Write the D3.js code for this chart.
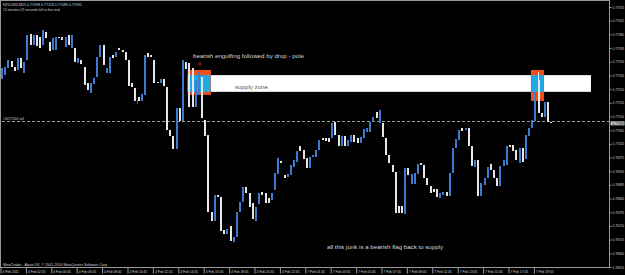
<!DOCTYPE html>
<html lang="en">
<head>
  <meta charset="UTF-8" />
  <title>NZDUSD M15</title>
  <script src="https://cdn.jsdelivr.net/npm/d3@7/dist/d3.min.js"></script>
  <style>
    body { margin: 0; background: #000; }
    svg { display: block; }
    text { font-family: "Liberation Sans", Arial, sans-serif; }
  </style>
</head>
<body>
<svg id="svg"></svg>
<script>
  // M15 candles
  const opens = [0.77233,0.77246,0.77269,0.77292,0.77273,0.77263,0.77302,0.77253,0.77296,0.77381,
    0.77345,0.77378,0.77371,0.77345,0.77388,0.77355,0.77329,0.77329,0.77371,0.77371,
    0.77338,0.77378,0.77335,0.77335,0.77286,0.77296,0.77273,0.77220,0.77187,0.77217,
    0.77240,0.77306,0.77345,0.77253,0.77253,0.77312,0.77306,0.77335,0.77329,0.77322,
    0.77296,0.77220,0.77204,0.77174,0.77161,0.77181,0.77319,0.77312,0.77296,0.77223,
    0.77220,0.77233,0.77207,0.77066,0.77046,0.77003,0.77138,0.77095,0.77289,0.77286,
    0.77269,0.77141,0.77181,0.77240,0.77098,0.77049,0.76796,0.76766,0.76852,0.76845,
    0.76736,0.76723,0.76749,0.76697,0.76713,0.76796,0.76828,0.76878,0.76858,0.76825,
    0.76766,0.76822,0.76862,0.76858,0.76842,0.76835,0.76868,0.76921,0.76964,0.76918,
    0.76911,0.76918,0.76944,0.76960,0.77013,0.77000,0.76974,0.76941,0.76977,0.76977,
    0.77000,0.77039,0.77039,0.77039,0.77039,0.77092,0.77049,0.77013,0.77046,0.77013,
    0.77026,0.77049,0.77039,0.77023,0.77039,0.77059,0.77059,0.77092,0.77125,0.77089,
    0.77089,0.77039,0.76983,0.76950,0.76927,0.76815,0.76815,0.76789,0.76941,0.76888,
    0.76888,0.76921,0.76957,0.76950,0.76908,0.76881,0.76871,0.76871,0.76842,0.76852,
    0.76862,0.76848,0.76924,0.77006,0.77033,0.77072,0.77066,0.77072,0.77013,0.76944,
    0.76967,0.76848,0.76885,0.76908,0.76954,0.76934,0.76908,0.76881,0.76947,0.76950,
    0.77016,0.77016,0.77000,0.76957,0.77006,0.76970,0.77046,0.77072,0.77095,0.77230,
    0.77121,0.77108,0.77158,0.77092];
  const highs = [0.77269,0.77273,0.77296,0.77292,0.77273,0.77302,0.77302,0.77289,0.77378,0.77381,
    0.77378,0.77378,0.77371,0.77394,0.77388,0.77355,0.77368,0.77371,0.77371,0.77371,
    0.77371,0.77378,0.77378,0.77335,0.77302,0.77296,0.77273,0.77220,0.77220,0.77237,
    0.77306,0.77345,0.77345,0.77269,0.77306,0.77312,0.77322,0.77335,0.77329,0.77322,
    0.77296,0.77220,0.77204,0.77174,0.77184,0.77312,0.77319,0.77312,0.77296,0.77223,
    0.77233,0.77233,0.77207,0.77066,0.77046,0.77138,0.77138,0.77296,0.77289,0.77286,
    0.77269,0.77230,0.77256,0.77240,0.77098,0.77049,0.76796,0.76852,0.76852,0.76845,
    0.76736,0.76740,0.76749,0.76713,0.76796,0.76828,0.76878,0.76878,0.76858,0.76825,
    0.76812,0.76858,0.76862,0.76858,0.76842,0.76858,0.76924,0.76974,0.76964,0.76918,
    0.76921,0.76950,0.76967,0.76997,0.77013,0.77000,0.76974,0.76977,0.76983,0.77000,
    0.77033,0.77039,0.77039,0.77039,0.77089,0.77092,0.77049,0.77046,0.77046,0.77033,
    0.77049,0.77049,0.77039,0.77043,0.77069,0.77072,0.77092,0.77108,0.77125,0.77131,
    0.77089,0.77039,0.76983,0.76950,0.76927,0.76815,0.76815,0.76941,0.76941,0.76921,
    0.76924,0.76954,0.76957,0.76950,0.76908,0.76881,0.76871,0.76871,0.76858,0.76862,
    0.76862,0.76924,0.77006,0.77036,0.77066,0.77072,0.77072,0.77072,0.77013,0.76967,
    0.76967,0.76891,0.76908,0.76944,0.76954,0.76934,0.76908,0.76947,0.76967,0.77013,
    0.77016,0.77016,0.77000,0.77006,0.77006,0.77049,0.77072,0.77098,0.77191,0.77256,
    0.77121,0.77158,0.77158,0.77092];
  const lows = [0.77233,0.77246,0.77269,0.77273,0.77259,0.77263,0.77269,0.77253,0.77296,0.77345,
    0.77345,0.77342,0.77335,0.77345,0.77368,0.77325,0.77329,0.77329,0.77368,0.77361,
    0.77338,0.77345,0.77335,0.77289,0.77286,0.77283,0.77214,0.77197,0.77187,0.77217,
    0.77240,0.77306,0.77279,0.77253,0.77253,0.77302,0.77306,0.77329,0.77322,0.77296,
    0.77210,0.77207,0.77161,0.77161,0.77161,0.77181,0.77306,0.77306,0.77220,0.77220,
    0.77220,0.77210,0.77066,0.77046,0.77003,0.77003,0.77095,0.77095,0.77266,0.77141,
    0.77141,0.77141,0.77181,0.77105,0.77046,0.76796,0.76766,0.76766,0.76845,0.76733,
    0.76723,0.76723,0.76700,0.76697,0.76713,0.76796,0.76828,0.76858,0.76812,0.76773,
    0.76766,0.76822,0.76852,0.76825,0.76825,0.76835,0.76868,0.76921,0.76957,0.76908,
    0.76911,0.76918,0.76944,0.76960,0.76997,0.76970,0.76941,0.76941,0.76977,0.76977,
    0.77000,0.77033,0.77029,0.77026,0.77039,0.77049,0.77013,0.77013,0.77013,0.77013,
    0.77026,0.77026,0.77023,0.77023,0.77039,0.77059,0.77059,0.77092,0.77105,0.77089,
    0.77043,0.76983,0.76957,0.76927,0.76792,0.76792,0.76792,0.76789,0.76918,0.76888,
    0.76888,0.76921,0.76950,0.76908,0.76885,0.76858,0.76862,0.76845,0.76842,0.76852,
    0.76848,0.76848,0.76924,0.77006,0.77033,0.77062,0.77066,0.77013,0.76947,0.76944,
    0.76848,0.76848,0.76885,0.76908,0.76934,0.76908,0.76881,0.76881,0.76947,0.76950,
    0.77010,0.76997,0.76967,0.76957,0.76960,0.76970,0.77046,0.77072,0.77095,0.77121,
    0.77108,0.77108,0.77092,0.77089];
  const closes = [0.77269,0.77273,0.77296,0.77273,0.77259,0.77302,0.77269,0.77289,0.77378,0.77345,
    0.77378,0.77342,0.77335,0.77394,0.77368,0.77325,0.77368,0.77371,0.77368,0.77361,
    0.77371,0.77345,0.77378,0.77289,0.77302,0.77283,0.77214,0.77197,0.77220,0.77237,
    0.77306,0.77345,0.77279,0.77269,0.77306,0.77302,0.77322,0.77329,0.77322,0.77296,
    0.77210,0.77207,0.77161,0.77161,0.77184,0.77312,0.77306,0.77306,0.77220,0.77220,
    0.77233,0.77210,0.77066,0.77046,0.77003,0.77138,0.77095,0.77296,0.77266,0.77141,
    0.77141,0.77230,0.77256,0.77105,0.77046,0.76796,0.76766,0.76852,0.76845,0.76733,
    0.76723,0.76740,0.76700,0.76713,0.76796,0.76828,0.76878,0.76858,0.76812,0.76773,
    0.76812,0.76858,0.76852,0.76825,0.76825,0.76858,0.76924,0.76974,0.76957,0.76908,
    0.76921,0.76950,0.76967,0.76997,0.76997,0.76970,0.76941,0.76977,0.76983,0.77000,
    0.77033,0.77033,0.77029,0.77026,0.77089,0.77049,0.77013,0.77046,0.77013,0.77033,
    0.77049,0.77026,0.77023,0.77043,0.77069,0.77072,0.77092,0.77108,0.77105,0.77131,
    0.77043,0.76983,0.76957,0.76927,0.76792,0.76792,0.76792,0.76941,0.76918,0.76921,
    0.76924,0.76954,0.76950,0.76908,0.76885,0.76858,0.76862,0.76845,0.76858,0.76862,
    0.76848,0.76924,0.77006,0.77036,0.77066,0.77062,0.77072,0.77013,0.76947,0.76967,
    0.76848,0.76891,0.76908,0.76944,0.76934,0.76908,0.76881,0.76947,0.76967,0.77013,
    0.77010,0.76997,0.76967,0.77006,0.76960,0.77049,0.77072,0.77098,0.77191,0.77121,
    0.77108,0.77158,0.77092,0.77089];

  const timeLabels = ["4 Feb 2011","4 Feb 02:45","4 Feb 04:45","4 Feb 06:45","4 Feb 08:45",
    "4 Feb 10:45","4 Feb 12:45","4 Feb 14:45","4 Feb 16:45","4 Feb 18:45","4 Feb 20:45",
    "4 Feb 22:45","7 Feb 01:45","7 Feb 03:45","7 Feb 05:45","7 Feb 07:45","7 Feb 09:45",
    "7 Feb 11:45","7 Feb 13:45","7 Feb 15:45","7 Feb 17:45","7 Feb 19:45"];
  const priceTicks = [0.77470,0.77425,0.77380,0.77335,0.77290,0.77245,0.77200,0.77155,0.77110,
    0.77065,0.77020,0.76975,0.76930,0.76885,0.76840,0.76795,0.76750,0.76705,0.76660,0.76615];

  // drawn objects (bar index / price)
  const supplyZone = { from: 58.5, to: 185.5, top: 0.77246, bottom: 0.77191 };
  const patternBoxes = [
    { from: 58.5, to: 65.8, top: 0.77263, bottom: 0.77181 },
    { from: 166.6, to: 170.7, top: 0.77263, bottom: 0.77161 }
  ];
  const orderPrice = 0.77095;
  const bidPrice = 0.77089;

  const width = 625;
  const height = 275;
  const plotRight = 609.5;
  const plotBottom = 267.5;

  const svg = d3.select("#svg").attr("width", width).attr("height", height);
  svg.append("rect").attr("width", width).attr("height", height).attr("fill", "#000");

  const xScale = d3.scaleLinear().domain([0, 168]).range([2, 535.4]);
  const yScale = d3.scaleLinear().domain([0.76615, 0.77470]).range([267, 7]);

  // supply zone + pattern boxes
  svg.append("rect")
    .attr("x", xScale(supplyZone.from)).attr("width", xScale(supplyZone.to) - xScale(supplyZone.from))
    .attr("y", yScale(supplyZone.top)).attr("height", yScale(supplyZone.bottom) - yScale(supplyZone.top))
    .attr("fill", "#ffffff");

  patternBoxes.forEach((b) => {
    const x0 = xScale(b.from), x1 = xScale(b.to);
    svg.append("rect")
      .attr("x", x0).attr("width", x1 - x0)
      .attr("y", yScale(b.top)).attr("height", yScale(b.bottom) - yScale(b.top))
      .attr("fill", "#f04e1c");
    svg.append("rect")
      .attr("x", x0 + 0.5).attr("width", x1 - x0 - 1)
      .attr("y", yScale(supplyZone.top)).attr("height", yScale(supplyZone.bottom) - yScale(supplyZone.top))
      .attr("fill", "#1fa9e6");
  });

  svg.append("text").text("supply zone")
    .attr("x", 235).attr("y", 88.5).attr("font-size", 6)
    .attr("textLength", 33).attr("lengthAdjust", "spacingAndGlyphs")
    .attr("fill", "#555");

  // order line
  const oy = Math.round(yScale(orderPrice)) + 0.5;
  svg.append("line")
    .attr("x1", 2).attr("x2", plotRight).attr("y1", oy).attr("y2", oy)
    .attr("stroke", "#93a593").attr("stroke-width", 1).attr("stroke-dasharray", "3,2");
  svg.append("text").text("#5077204 sell")
    .attr("x", 3).attr("y", oy - 1.5).attr("font-size", 3.4).attr("fill", "#cfcfcf");

  // candles
  const candles = svg.append("g").attr("shape-rendering", "crispEdges");
  opens.forEach((o, i) => {
    const c = closes[i];
    const col = c >= o ? "#3d7bd0" : "#e6e6e6";
    const cx = Math.round(xScale(i));
    const top = Math.round(yScale(Math.max(o, c)));
    const bot = Math.round(yScale(Math.min(o, c)));
    candles.append("line")
      .attr("x1", cx - 0.5).attr("x2", cx - 0.5)
      .attr("y1", yScale(highs[i])).attr("y2", yScale(lows[i]))
      .attr("stroke", col).attr("stroke-width", 1);
    candles.append("rect")
      .attr("x", cx - 1).attr("width", 2)
      .attr("y", top).attr("height", Math.max(1, bot - top))
      .attr("fill", col);
  });

  // small arrows
  svg.append("circle").attr("cx", 200).attr("cy", 64).attr("r", 1.2)
    .attr("fill", "none").attr("stroke", "#d02020").attr("stroke-width", 0.8);
  svg.append("line").attr("x1", 137.5).attr("x2", 137.5).attr("y1", 100).attr("y2", 104)
    .attr("stroke", "#2a8a2a").attr("stroke-width", 1);

  // annotations
  svg.append("text").text("bearish engulfing followed by drop - pole")
    .attr("x", 193).attr("y", 58).attr("font-size", 6)
    .attr("textLength", 111).attr("lengthAdjust", "spacingAndGlyphs").attr("fill", "#d8d8d8");
  svg.append("text").text("all this junk is a bearish flag back to supply")
    .attr("x", 327).attr("y", 248.5).attr("font-size", 6)
    .attr("textLength", 116).attr("lengthAdjust", "spacingAndGlyphs").attr("fill", "#d8d8d8");

  // header + footer text
  svg.append("text").text("NZDUSD,M15  0.77098 0.77118 0.77089 0.77092")
    .attr("x", 3).attr("y", 5.5).attr("font-size", 3.6).attr("fill", "#d0d0d0");
  svg.append("text").text("12 minutes 29 seconds left to bar end")
    .attr("x", 3).attr("y", 10.5).attr("font-size", 3.4).attr("fill", "#d0d0d0");
  svg.append("text").text("MetaTrader - Alpari UK, © 2001-2010 MetaQuotes Software Corp.")
    .attr("x", 3).attr("y", 265.5).attr("font-size", 3.6).attr("fill", "#d0d0d0");

  // frame
  const frame = svg.append("g").attr("stroke", "#9a9a9a").attr("stroke-width", 1);
  frame.append("line").attr("x1", 0.5).attr("x2", 0.5).attr("y1", 0).attr("y2", plotBottom);
  frame.append("line").attr("x1", 0).attr("x2", plotRight).attr("y1", 0.5).attr("y2", 0.5);
  frame.append("line").attr("x1", plotRight).attr("x2", plotRight).attr("y1", 0).attr("y2", plotBottom);
  frame.append("line").attr("x1", 0).attr("x2", plotRight).attr("y1", plotBottom).attr("y2", plotBottom);

  // price axis
  const yAxis = d3.axisRight(yScale)
    .tickValues(priceTicks)
    .tickFormat(d3.format(".5f"))
    .tickSize(2).tickPadding(1);
  const ya = svg.append("g").attr("transform", `translate(${plotRight}, 0)`).call(yAxis);
  ya.select(".domain").remove();
  ya.selectAll(".tick line").attr("stroke", "#9a9a9a");
  ya.selectAll(".tick text").attr("font-size", 3.2).attr("fill", "#cfcfcf")
    .attr("font-family", "Liberation Sans, Arial, sans-serif");

  // bid box
  svg.append("rect").attr("x", plotRight + 1).attr("y", yScale(bidPrice) - 1.5)
    .attr("width", 14).attr("height", 4).attr("fill", "#c8c8c8");
  svg.append("text").text(d3.format(".5f")(bidPrice))
    .attr("x", plotRight + 3).attr("y", yScale(bidPrice) + 1.8)
    .attr("font-size", 3.2).attr("fill", "#000");

  // time axis
  const xAxis = d3.axisBottom(xScale)
    .tickValues(timeLabels.map((d, i) => i * 8))
    .tickFormat((d, i) => timeLabels[i])
    .tickSize(6);
  const xa = svg.append("g").attr("transform", `translate(-1.5, ${plotBottom})`).call(xAxis);
  xa.select(".domain").remove();
  xa.selectAll(".tick line").attr("stroke", "#9a9a9a");
  xa.selectAll(".tick text")
    .attr("text-anchor", "start").attr("x", 1.5).attr("y", 3).attr("dy", "0.71em")
    .attr("font-size", 3.3).attr("fill", "#cfcfcf")
    .attr("font-family", "Liberation Sans, Arial, sans-serif");
</script>
</body>
</html>
